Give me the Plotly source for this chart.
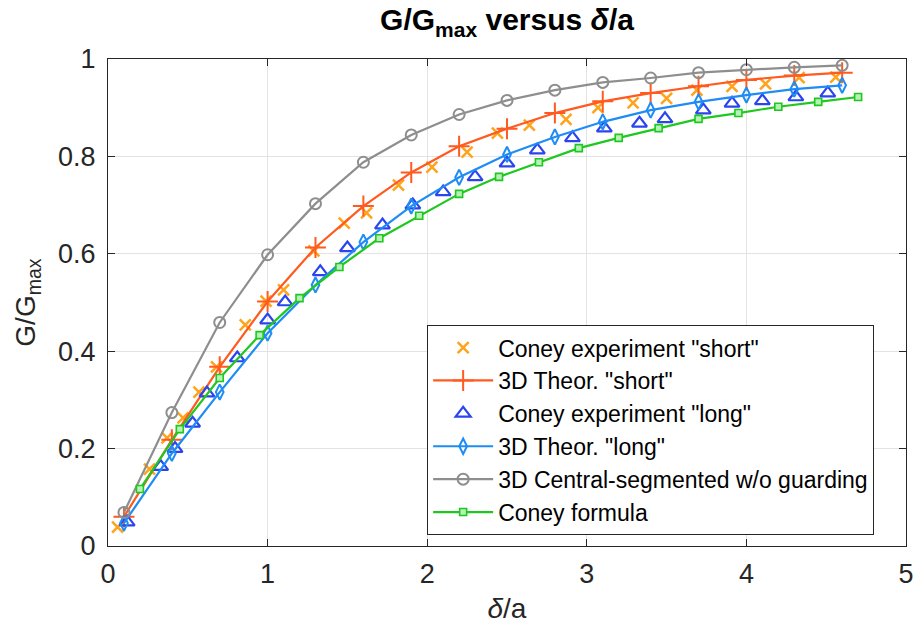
import plotly.graph_objects as go

# ---- data ----
x_short_exp = [0.06, 0.26, 0.37, 0.47, 0.57, 0.68, 0.86, 0.99, 1.10, 1.29, 1.48, 1.62, 1.82,
               2.03, 2.25, 2.44, 2.64, 2.87, 3.07, 3.29, 3.50, 3.69, 3.91, 4.12, 4.33, 4.56]
y_short_exp = [0.039, 0.158, 0.222, 0.263, 0.316, 0.368, 0.454, 0.503, 0.526, 0.606, 0.663, 0.684, 0.741,
               0.778, 0.809, 0.848, 0.864, 0.876, 0.900, 0.910, 0.919, 0.936, 0.944, 0.949, 0.962, 0.963]

x_theory = [0.1, 0.4, 0.7, 1.0, 1.3, 1.6, 1.9, 2.2, 2.5, 2.8, 3.1, 3.4, 3.7, 4.0, 4.3, 4.6]
y_short_th = [0.060, 0.218, 0.368, 0.502, 0.613, 0.698, 0.767, 0.821, 0.857, 0.889, 0.913, 0.930,
              0.944, 0.957, 0.966, 0.972]
y_long_th = [0.047, 0.190, 0.316, 0.437, 0.536, 0.624, 0.698, 0.757, 0.804, 0.840, 0.871, 0.895,
             0.912, 0.926, 0.938, 0.946]
y_central = [0.069, 0.274, 0.459, 0.598, 0.703, 0.788, 0.844, 0.886, 0.915, 0.936, 0.952, 0.961,
             0.972, 0.978, 0.983, 0.987]

x_long_exp = [0.12, 0.33, 0.42, 0.53, 0.62, 0.81, 1.00, 1.11, 1.33, 1.50, 1.72, 1.91, 2.10,
              2.30, 2.50, 2.69, 2.91, 3.11, 3.33, 3.49, 3.73, 3.91, 4.10, 4.31, 4.51]
y_long_exp = [0.049, 0.163, 0.200, 0.252, 0.314, 0.386, 0.464, 0.501, 0.563, 0.612, 0.659, 0.700, 0.727,
              0.758, 0.786, 0.813, 0.838, 0.858, 0.868, 0.877, 0.895, 0.909, 0.914, 0.922, 0.930]

x_formula = [0.2, 0.45, 0.7, 0.95, 1.2, 1.45, 1.7, 1.95, 2.2, 2.45, 2.7, 2.95, 3.2, 3.45,
             3.7, 3.95, 4.2, 4.45, 4.7]
y_formula = [0.117, 0.240, 0.345, 0.433, 0.509, 0.573, 0.632, 0.678, 0.723, 0.758, 0.788, 0.817,
             0.838, 0.858, 0.877, 0.889, 0.902, 0.912, 0.922]

x_ticks = [0, 1, 2, 3, 4, 5]
y_ticks = [0, 0.2, 0.4, 0.6, 0.8, 1]
y_tick_labels = ["0", "0.2", "0.4", "0.6", "0.8", "1"]

names = ['Coney experiment "short"', '3D Theor. "short"', 'Coney experiment "long"',
         '3D Theor. "long"', '3D Central-segmented w/o guarding', 'Coney formula']

C_SHORT_EXP = "#FFA31A"
C_SHORT_TH = "#FF5A1F"
C_LONG_EXP = "#2B45EE"
C_LONG_TH = "#1E8CF5"
C_CENTRAL = "#8E8E8E"
C_FORMULA = "#1FC81F"
AX = "#262626"
FONT = "Liberation Sans, Arial, sans-serif"

fig = go.Figure()
fig.add_trace(go.Scatter(x=x_short_exp, y=y_short_exp, mode="markers", name=names[0], legendgroup="a",
                         marker=dict(symbol="x-thin-open", size=11, color=C_SHORT_EXP,
                                     line=dict(color=C_SHORT_EXP, width=2.5))))
fig.add_trace(go.Scatter(x=x_theory, y=y_short_th, mode="lines+markers", name=names[1], legendgroup="b",
                         line=dict(color=C_SHORT_TH, width=2.2),
                         marker=dict(symbol="cross-thin-open", size=15, color=C_SHORT_TH,
                                     line=dict(color=C_SHORT_TH, width=2))))
fig.add_trace(go.Scatter(x=x_long_exp, y=y_long_exp, mode="markers", name=names[2], legendgroup="c",
                         marker=dict(symbol="triangle-up-open", size=13, color=C_LONG_EXP,
                                     line=dict(color=C_LONG_EXP, width=2.2))))
fig.add_trace(go.Scatter(x=x_theory, y=y_long_th, mode="lines+markers", name=names[3], legendgroup="d",
                         line=dict(color=C_LONG_TH, width=2.2),
                         marker=dict(symbol="diamond-tall-open", size=11, color=C_LONG_TH,
                                     line=dict(color=C_LONG_TH, width=2))))
fig.add_trace(go.Scatter(x=x_theory, y=y_central, mode="lines+markers", name=names[4], legendgroup="e",
                         line=dict(color=C_CENTRAL, width=2.2),
                         marker=dict(symbol="circle-open", size=11, color=C_CENTRAL,
                                     line=dict(color=C_CENTRAL, width=2))))
fig.add_trace(go.Scatter(x=x_formula, y=y_formula, mode="lines+markers", name=names[5], legendgroup="f",
                         line=dict(color=C_FORMULA, width=2.2),
                         marker=dict(symbol="square", size=7, color="#B8F0B8",
                                     line=dict(color=C_FORMULA, width=1.6))))

axis_common = dict(
    showline=True, linecolor=AX, linewidth=1, mirror="ticks",
    ticks="inside", ticklen=7, tickwidth=1, tickcolor=AX,
    showgrid=True, gridcolor="#E3E3E3", gridwidth=1, zeroline=False,
    tickfont=dict(family=FONT, size=27, color=AX),
    automargin=False, ticklabeloverflow="allow",
)

fig.update_layout(
    width=913, height=628,
    margin=dict(l=108, r=7, t=59, b=82),
    paper_bgcolor="white", plot_bgcolor="white",
    font=dict(family=FONT, color=AX),
    title=dict(text="<b>G/G<sub>max</sub> versus <i>δ</i>/a</b>", x=0.5, xref="paper",
               xanchor="center", y=0.985, yanchor="top",
               font=dict(family=FONT, size=30, color="black")),
    xaxis=dict(range=[0, 5], tickvals=x_ticks, ticktext=[str(v) for v in x_ticks],
               ticklabelstandoff=4,
               title=dict(text="<i>δ</i>/a", font=dict(family=FONT, size=28, color=AX), standoff=9),
               **axis_common),
    yaxis=dict(range=[0, 1], tickvals=y_ticks, ticktext=y_tick_labels,
               ticklabelstandoff=6,
               title=dict(text="G/G<sub>max</sub>", font=dict(family=FONT, size=28, color=AX), standoff=14),
               **axis_common),
    legend=dict(x=0.68, xanchor="center", y=0.238, yanchor="middle",
                bgcolor="white", bordercolor=AX, borderwidth=1,
                font=dict(family=FONT, size=23, color="black"),
                traceorder="grouped", tracegroupgap=0, itemwidth=60),
    showlegend=True,
)

fig.write_html("out.html", config={"displayModeBar": False},
               post_script="document.body.style.margin='0px';")
